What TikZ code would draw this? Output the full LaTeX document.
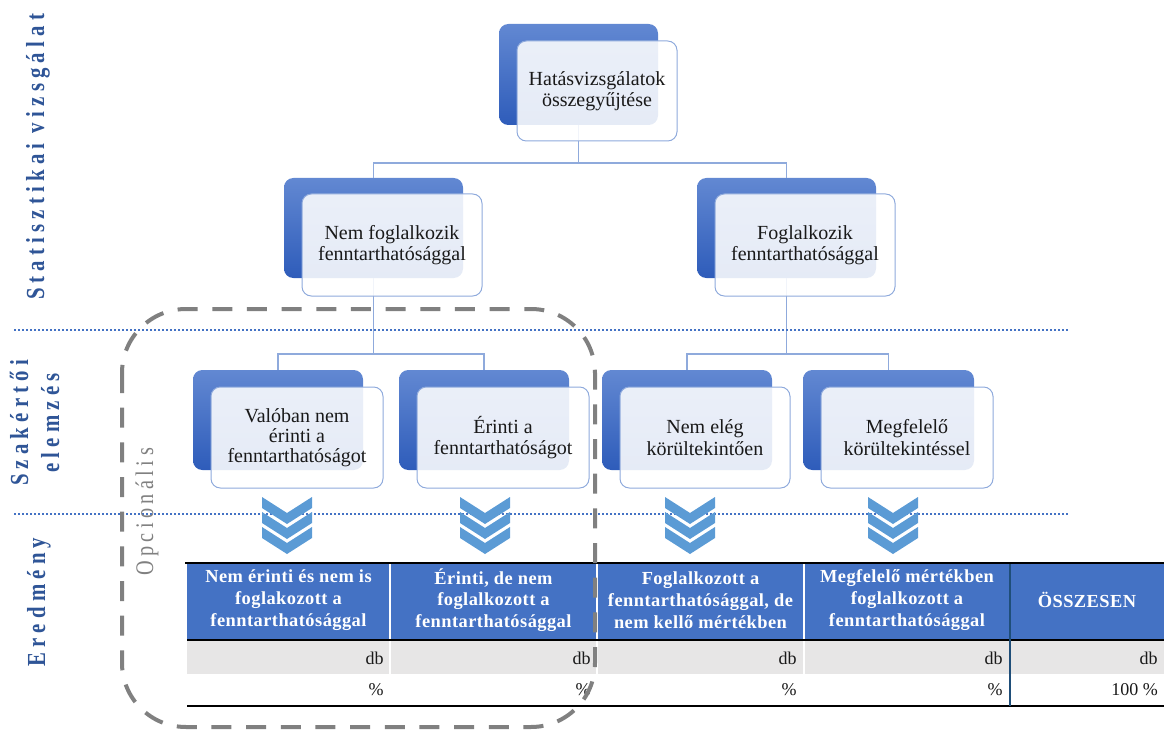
\documentclass[tikz,border=0pt]{standalone}
\usepackage{graphicx}
\usepackage{fontspec}
\setmainfont{Liberation Serif}
\newfontfamily\sidefont[LetterSpace=25]{Liberation Serif Bold}
\newfontfamily\optfont[LetterSpace=22]{Liberation Serif}
\newfontfamily\hdrfont[LetterSpace=2.5]{Liberation Serif Bold}
\usetikzlibrary{fit}

\definecolor{boxtop}{RGB}{98,136,210}
\definecolor{boxbot}{RGB}{46,92,186}
\definecolor{boxline}{RGB}{143,170,220}
\definecolor{hdrblue}{RGB}{68,114,196}
\definecolor{rowgray}{RGB}{231,230,230}
\definecolor{sideblue}{RGB}{47,85,151}
\definecolor{chev}{RGB}{91,155,213}
\definecolor{dashgray}{RGB}{128,128,128}
\definecolor{sepblue}{RGB}{31,78,121}
\definecolor{dotblue}{RGB}{68,114,196}
\definecolor{ink}{RGB}{25,25,25}

% condensed lettering for the vertical section titles
\newcommand{\narrowtext}[1]{\scalebox{0.8}[1]{#1}}

\tikzset{
  backbox/.style={draw=none, top color=boxtop, bottom color=boxbot,
    rounded corners=7pt, inner sep=0pt},
  frontbox/.style={draw=boxline, line width=0.75pt, fill=white, fill opacity=0.88,
    text opacity=1, rounded corners=7pt, inner sep=0pt},
  boxtext/.style={align=center, text=ink, font=\fontsize{15pt}{16pt}\selectfont},
  conn/.style={draw=boxline, line width=0.8pt},
  sepline/.style={draw=dotblue, line width=1.5pt, dash pattern=on 1.5pt off 1.5pt},
  chevshape/.style={fill=chev, draw=none},
  hdrtext/.style={text=white, align=center,
    font=\hdrfont\fontsize{13.8pt}{16.3pt}\selectfont},
  celltext/.style={text=ink, anchor=east, inner sep=0pt,
    font=\fontsize{13.5pt}{16pt}\selectfont},
  sidelbl/.style={text=sideblue, rotate=90, anchor=base, inner sep=0pt,
    font=\sidefont\fontsize{19.5pt}{20pt}\selectfont},
  optlbl/.style={text=dashgray, rotate=90, anchor=base, inner sep=0pt,
    font=\optfont\fontsize{19pt}{20pt}\selectfont},
  dashbox/.style={draw=dashgray, line width=3pt, dash pattern=on 15pt off 11pt,
    rounded corners=48pt},
}

\begin{document}
\begin{tikzpicture}[x=0.75pt, y=-0.75pt]
\useasboundingbox (0,0) rectangle (1164,731);

% bus levels of the tree connectors
\coordinate (bus1) at (0,163);
\coordinate (bus2) at (0,354);

% ---------- back boxes ----------
\node[backbox, fit={(499,24) (658,125)}]  (topb) {};
\node[backbox, fit={(284,178) (463,278)}] (l2lb) {};
\node[backbox, fit={(697,178) (876,278)}] (l2rb) {};
\node[backbox, fit={(193,370) (363,470)}] (c1b) {};
\node[backbox, fit={(399,370) (569,470)}] (c2b) {};
\node[backbox, fit={(602,370) (772,470)}] (c3b) {};
\node[backbox, fit={(803,370) (974,470)}] (c4b) {};

% ---------- connectors ----------
\draw[conn] (topb.south) -- (topb.south |- bus1);
\draw[conn] (l2lb.north) -- (l2lb.north |- bus1) -- (l2rb.north |- bus1) -- (l2rb.north);
\draw[conn] (l2lb.south) -- (l2lb.south |- bus2);
\draw[conn] (c1b.north) -- (c1b.north |- bus2) -- (c2b.north |- bus2) -- (c2b.north);
\draw[conn] (l2rb.south) -- (l2rb.south |- bus2);
\draw[conn] (c3b.north) -- (c3b.north |- bus2) -- (c4b.north |- bus2) -- (c4b.north);

% ---------- front boxes ----------
\node[frontbox, fit={(517,41) (677,141)}] (topf) {};
\node[boxtext] (topt) at (topf.center) {Hatásvizsgálatok\\összegyűjtése};
\node[frontbox, fit={(302,194) (482,296)}] (l2lf) {};
\node[boxtext] (l2lt) at (l2lf.center) {Nem foglalkozik\\fenntarthatósággal};
\node[frontbox, fit={(715,194) (895,296)}] (l2rf) {};
\node[boxtext] (l2rt) at (l2rf.center) {Foglalkozik\\fenntarthatósággal};
\node[frontbox, fit={(211,387) (383,488)}] (c1f) {};
\node[boxtext, font=\fontsize{15pt}{15pt}\selectfont] (c1t) at (c1f.center)
  {Valóban nem\\érinti a\\fenntarthatóságot};
\node[frontbox, fit={(417,387) (589,488)}] (c2f) {};
\node[boxtext] (c2t) at (c2f.center) {Érinti a\\fenntarthatóságot};
\node[frontbox, fit={(620,387) (790,488)}] (c3f) {};
\node[boxtext] (c3t) at (c3f.center) {Nem elég\\körültekintően};
\node[frontbox, fit={(821,387) (993,488)}] (c4f) {};
\node[boxtext] (c4t) at (c4f.center) {Megfelelő\\körültekintéssel};

% ---------- section separators ----------
\draw[sepline] (14,330) -- (1070,330);
\draw[sepline] (14,514) -- (1070,514);

% ---------- chevrons ----------
\foreach \cx in {287,485,690,893}{
  \foreach \cy in {497,512,527}{
    \fill[chevshape] (\cx-25,\cy) -- (\cx,\cy+16) -- (\cx+25,\cy) -- (\cx+25,\cy+11)
      -- (\cx,\cy+27) -- (\cx-25,\cy+11) -- cycle;
  }
}

% ---------- result table ----------
\fill[hdrblue] (187,564) rectangle (1164,640);
\fill[rowgray] (187,641) rectangle (1164,674);
\foreach \sx in {390,597,804}{
  \draw[white, line width=1.2pt] (\sx,564) -- (\sx,674);
}
\draw[black, line width=1.2pt] (185,563) -- (1164,563);
\draw[black, line width=1.6pt] (187,640) -- (1164,640);
\draw[black, line width=1.6pt] (187,706) -- (1164,706);
\draw[sepblue, line width=1.6pt] (1010,564) -- (1010,706);

\node[hdrtext] (h1) at (288.5,600) {Nem érinti és nem is\\foglakozott a\\fenntarthatósággal};
\node[hdrtext] (h2) at (493.5,600) {Érinti, de nem\\foglalkozott a\\fenntarthatósággal};
\node[hdrtext] (h3) at (700.5,600) {Foglalkozott a\\fenntarthatósággal, de\\nem kellő mértékben};
\node[hdrtext] (h4) at (907,600) {Megfelelő mértékben\\foglalkozott a\\fenntarthatósággal};
\node[hdrtext] (h5) at (1087,600) {ÖSSZESEN};

\node[celltext] (d1) at (384,658) {db};
\node[celltext] (d2) at (591,658) {db};
\node[celltext] (d3) at (797,658) {db};
\node[celltext] (d4) at (1003,658) {db};
\node[celltext] (d5) at (1158,658) {db};
\node[celltext] (p1) at (384,690) {\%};
\node[celltext] (p2) at (591,690) {\%};
\node[celltext] (p3) at (797,690) {\%};
\node[celltext] (p4) at (1003,690) {\%};
\node[celltext] (p5) at (1158,690) {100 \%};

% ---------- side labels ----------
\node[sidelbl] (lab1)  at (44,157) {\narrowtext{Statisztikai vizsgálat}};
\node[sidelbl] (lab2a) at (28,423) {\narrowtext{Szakértői}};
\node[sidelbl] (lab2b) at (59,423) {\narrowtext{elemzés}};
\node[sidelbl] (lab3)  at (45,602) {\narrowtext{Eredmény}};
\node[optlbl]  (lab4)  at (153,512) {\narrowtext{Opcionális}};

% ---------- optional group frame ----------
\draw[dashbox] (122,309) rectangle (595,727);
\end{tikzpicture}
\end{document}
